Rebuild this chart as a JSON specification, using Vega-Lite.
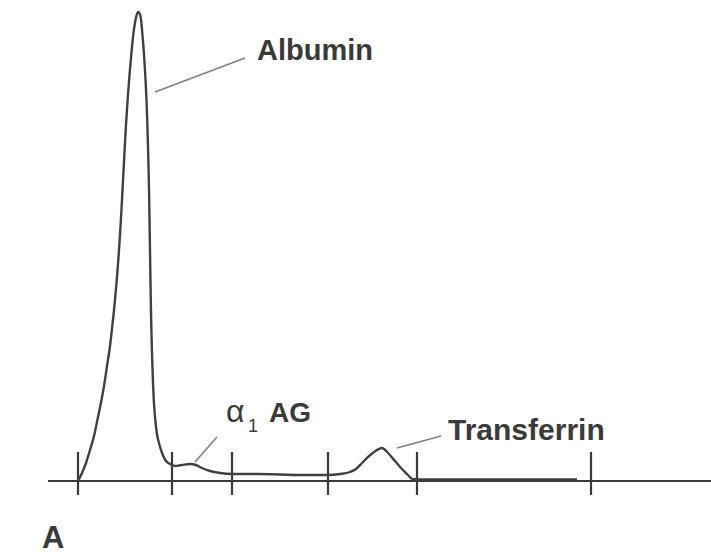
{
  "$schema": "https://vega.github.io/schema/vega-lite/v6.json",
  "width": 711,
  "height": 554,
  "padding": 0,
  "autosize": {"type": "none"},
  "background": "white",
  "config": {"view": {"stroke": null}},
  "datasets": {
    "trace": [
      {"pos": 78, "signal": 0}, {"pos": 82, "signal": 8}, {"pos": 86, "signal": 18}, {"pos": 90, "signal": 31},
      {"pos": 94, "signal": 45}, {"pos": 98, "signal": 64}, {"pos": 101.5, "signal": 81}, {"pos": 104.5, "signal": 98},
      {"pos": 107, "signal": 115}, {"pos": 109.5, "signal": 131}, {"pos": 111.5, "signal": 148}, {"pos": 113.3, "signal": 164},
      {"pos": 115, "signal": 181}, {"pos": 116.5, "signal": 198}, {"pos": 117.8, "signal": 214}, {"pos": 119, "signal": 231},
      {"pos": 120.6, "signal": 256}, {"pos": 122, "signal": 281}, {"pos": 123.3, "signal": 306}, {"pos": 124.6, "signal": 331},
      {"pos": 126, "signal": 356}, {"pos": 127.6, "signal": 381}, {"pos": 129.5, "signal": 406}, {"pos": 131.7, "signal": 431},
      {"pos": 133.5, "signal": 448}, {"pos": 135.5, "signal": 461}, {"pos": 138, "signal": 469},
      {"pos": 140.5, "signal": 465}, {"pos": 142.3, "signal": 448}, {"pos": 143.7, "signal": 431}, {"pos": 144.8, "signal": 414},
      {"pos": 145.7, "signal": 398}, {"pos": 146.5, "signal": 381}, {"pos": 147.4, "signal": 356}, {"pos": 148.1, "signal": 331},
      {"pos": 148.7, "signal": 306}, {"pos": 149.2, "signal": 281}, {"pos": 150, "signal": 231}, {"pos": 150.5, "signal": 198},
      {"pos": 151.1, "signal": 164}, {"pos": 151.9, "signal": 131}, {"pos": 153, "signal": 98}, {"pos": 153.8, "signal": 81},
      {"pos": 155, "signal": 64}, {"pos": 156.8, "signal": 48}, {"pos": 159.5, "signal": 36}, {"pos": 162.8, "signal": 26},
      {"pos": 166, "signal": 20}, {"pos": 170, "signal": 17}, {"pos": 175, "signal": 15}, {"pos": 182, "signal": 16},
      {"pos": 190, "signal": 17}, {"pos": 196, "signal": 16}, {"pos": 202, "signal": 13}, {"pos": 210, "signal": 10},
      {"pos": 220, "signal": 8}, {"pos": 232, "signal": 7}, {"pos": 260, "signal": 7}, {"pos": 300, "signal": 6},
      {"pos": 328, "signal": 6}, {"pos": 340, "signal": 7}, {"pos": 350, "signal": 9}, {"pos": 356, "signal": 12},
      {"pos": 362, "signal": 18}, {"pos": 368, "signal": 24}, {"pos": 374, "signal": 29}, {"pos": 382, "signal": 33},
      {"pos": 388, "signal": 28}, {"pos": 395, "signal": 20}, {"pos": 402, "signal": 12}, {"pos": 408, "signal": 6},
      {"pos": 412, "signal": 2}, {"pos": 420, "signal": 1.5}, {"pos": 500, "signal": 1.5}, {"pos": 577, "signal": 1.5}
    ],
    "baseline": [
      {"pos": 48, "signal": 0}, {"pos": 711, "signal": 0}
    ],
    "ticks": [
      {"pos": 78, "lo": -14, "hi": 29}, {"pos": 172, "lo": -14, "hi": 29}, {"pos": 232, "lo": -14, "hi": 29},
      {"pos": 328, "lo": -14, "hi": 29}, {"pos": 417, "lo": -14, "hi": 29}, {"pos": 591, "lo": -14, "hi": 29}
    ],
    "leaders": [
      {"x1": 155, "y1": 389, "x2": 245, "y2": 423},
      {"x1": 195, "y1": 19, "x2": 217, "y2": 44},
      {"x1": 397, "y1": 33, "x2": 441, "y2": 45}
    ],
    "boldLabels": [
      {"label": "Albumin", "pos": 257, "signal": 421, "size": 29},
      {"label": "AG", "pos": 269, "signal": 59, "size": 28},
      {"label": "Transferrin", "pos": 448, "signal": 41, "size": 30},
      {"label": "A", "pos": 42, "signal": -67, "size": 31}
    ],
    "plainLabels": [
      {"label": "α", "pos": 226, "signal": 59, "size": 32},
      {"label": "1", "pos": 248, "signal": 49, "size": 18}
    ]
  },
  "layer": [
    {
      "data": {"name": "baseline"},
      "mark": {"type": "line", "stroke": "#3a3a3a", "strokeWidth": 2.2},
      "encoding": {
        "x": {"field": "pos", "type": "quantitative", "scale": {"domain": [0, 711], "nice": false, "zero": false}, "axis": null},
        "y": {"field": "signal", "type": "quantitative", "scale": {"domain": [-73, 481], "nice": false, "zero": false}, "axis": null}
      }
    },
    {
      "data": {"name": "ticks"},
      "mark": {"type": "rule", "stroke": "#3a3a3a", "strokeWidth": 2.2},
      "encoding": {
        "x": {"field": "pos", "type": "quantitative", "axis": null},
        "y": {"field": "lo", "type": "quantitative", "axis": null},
        "y2": {"field": "hi"}
      }
    },
    {
      "data": {"name": "trace"},
      "mark": {"type": "line", "stroke": "#404040", "strokeWidth": 2.4, "interpolate": "monotone"},
      "encoding": {
        "x": {"field": "pos", "type": "quantitative", "axis": null},
        "y": {"field": "signal", "type": "quantitative", "axis": null}
      }
    },
    {
      "data": {"name": "leaders"},
      "mark": {"type": "rule", "stroke": "#808080", "strokeWidth": 1.6},
      "encoding": {
        "x": {"field": "x1", "type": "quantitative", "axis": null},
        "y": {"field": "y1", "type": "quantitative", "axis": null},
        "x2": {"field": "x2"},
        "y2": {"field": "y2"}
      }
    },
    {
      "data": {"name": "boldLabels"},
      "mark": {"type": "text", "align": "left", "baseline": "alphabetic", "font": "Liberation Sans", "fontWeight": "bold", "fill": "#3a3a3a"},
      "encoding": {
        "x": {"field": "pos", "type": "quantitative", "axis": null},
        "y": {"field": "signal", "type": "quantitative", "axis": null},
        "text": {"field": "label"},
        "size": {"field": "size", "type": "quantitative", "scale": null, "legend": null}
      }
    },
    {
      "data": {"name": "plainLabels"},
      "mark": {"type": "text", "align": "left", "baseline": "alphabetic", "font": "Liberation Sans", "fontWeight": "normal", "fill": "#3a3a3a"},
      "encoding": {
        "x": {"field": "pos", "type": "quantitative", "axis": null},
        "y": {"field": "signal", "type": "quantitative", "axis": null},
        "text": {"field": "label"},
        "size": {"field": "size", "type": "quantitative", "scale": null, "legend": null}
      }
    }
  ]
}
